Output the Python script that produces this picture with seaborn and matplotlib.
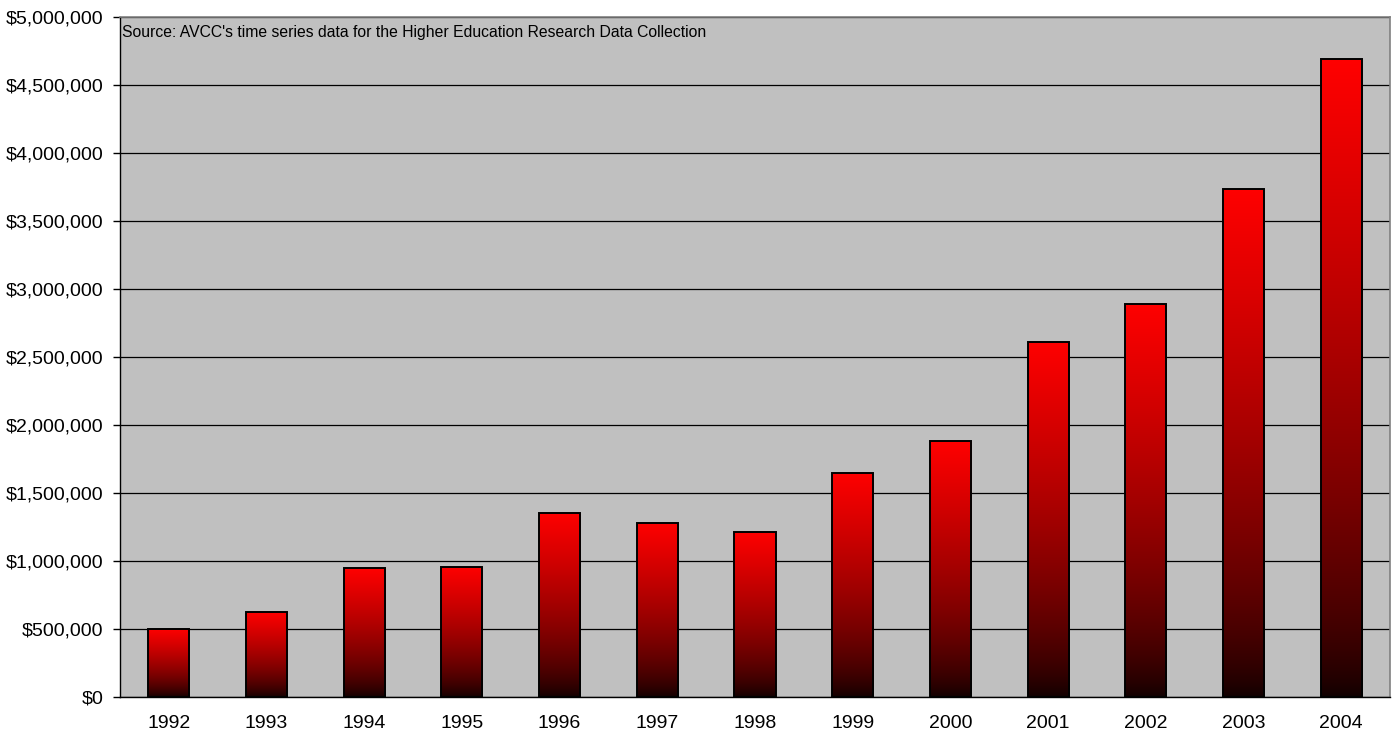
import matplotlib

matplotlib.use("Agg")
import matplotlib.pyplot as plt
import matplotlib.ticker as mticker
import numpy as np
import seaborn as sns

years = ["1992", "1993", "1994", "1995", "1996", "1997", "1998",
         "1999", "2000", "2001", "2002", "2003", "2004"]
funding = [500_000, 625_000, 946_000, 956_000, 1_355_000, 1_282_000, 1_216_000,
           1_649_000, 1_882_000, 2_613_000, 2_890_000, 3_738_000, 4_691_000]
source_note = "Source: AVCC's time series data for the Higher Education Research Data Collection"


def shade_bars(ax, patches):
    # red at the top of each bar fading to near black at its base
    frac = np.linspace(1, 0, 256) ** 0.7
    red = 0.06 + 0.94 * frac
    grad = np.zeros((256, 1, 3))
    grad[:, 0, 0] = red
    for p in patches:
        x0, w, h = p.get_x(), p.get_width(), p.get_height()
        im = ax.imshow(grad, extent=[x0, x0 + w, 0, h], aspect="auto",
                       origin="upper", zorder=2, interpolation="bilinear")
        im.set_clip_path(p)
        p.set_facecolor("none")
        p.set_zorder(3)


def main():
    sns.set_style("white")
    plt.rcParams["font.family"] = ["Liberation Sans", "DejaVu Sans"]

    fig = plt.figure(figsize=(13.94, 7.35), dpi=100)
    ax = fig.add_axes([0.0861, 0.0517, 0.911, 0.9252])
    ax.set_facecolor("#C0C0C0")

    sns.barplot(x=years, y=funding, color="red", width=0.42,
                edgecolor="black", linewidth=1.4, ax=ax, zorder=3)
    shade_bars(ax, list(ax.patches))

    ax.set_xlim(-0.5, len(years) - 0.5)
    ax.set_ylim(0, 5_000_000)
    ax.yaxis.set_major_locator(mticker.MultipleLocator(500_000))
    ax.yaxis.set_major_formatter(mticker.FuncFormatter(lambda v, _: f"${v:,.0f}"))
    ax.grid(axis="y", color="black", linewidth=0.9, zorder=1)
    ax.set_axisbelow(True)

    ax.set_xticks(np.arange(-0.5, len(years), 1.0), minor=True)
    ax.tick_params(axis="x", which="major", length=0, labelsize=14, pad=13, colors="black")
    ax.tick_params(axis="x", which="minor", length=5, width=1, color="black", direction="out")
    ax.tick_params(axis="y", length=5, width=1, labelsize=14, pad=7,
                   left=True, direction="out", colors="black")

    for side in ("top", "right"):
        ax.spines[side].set_color("#808080")
        ax.spines[side].set_linewidth(1.2)
    for side in ("left", "bottom"):
        ax.spines[side].set_color("black")
        ax.spines[side].set_linewidth(1.0)

    ax.set_xlabel("")
    ax.set_ylabel("")
    ax.annotate(source_note, xy=(0, 1), xycoords="axes fraction",
                xytext=(1.5, -6), textcoords="offset points",
                ha="left", va="top", fontsize=11.3, color="black")

    fig.savefig("out.png", dpi=100)


if __name__ == "__main__":
    main()
